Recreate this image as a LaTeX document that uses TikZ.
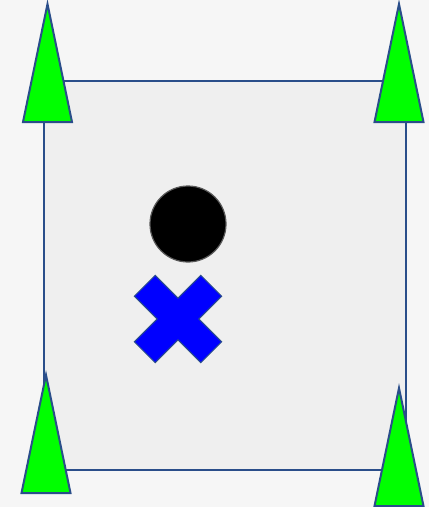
\documentclass[tikz,border=0pt]{standalone}
\usepackage{xcolor}
\usepackage{tikz}

\definecolor{edgeblue}{HTML}{2A4E8A}
\definecolor{bggrey}{HTML}{F6F6F6}
\definecolor{fieldgrey}{HTML}{EFEFEF}
\definecolor{treegreen}{HTML}{00FF00}
\definecolor{crossblue}{HTML}{0000FF}

\begin{document}
\begin{tikzpicture}[x=1pt,y=-1pt,line join=miter]
  \fill[bggrey] (0,0) rectangle (429,507);
  \useasboundingbox (0,0) rectangle (429,507);
  \draw[edgeblue,line width=1.6pt,fill=fieldgrey] (44,81) rectangle (406,470);
  \foreach \x/\y in {47.5/4,399/4,46/375,399/388}{
    \draw[edgeblue,line width=2pt,fill=treegreen] (\x,\y) -- ++(-24.5,118) -- ++(49,0) -- cycle;
  }
  \draw[black!65,line width=1.2pt,fill=black] (188,224) circle (38);
  \draw[edgeblue,line width=1pt,fill=crossblue,shift={(178,319)},rotate=45]
    (14.8,14.8) -- (14.8,47) -- (-14.8,47) -- (-14.8,14.8) -- (-47,14.8) -- (-47,-14.8)
    -- (-14.8,-14.8) -- (-14.8,-47) -- (14.8,-47) -- (14.8,-14.8) -- (47,-14.8) -- (47,14.8) -- cycle;
\end{tikzpicture}
\end{document}
